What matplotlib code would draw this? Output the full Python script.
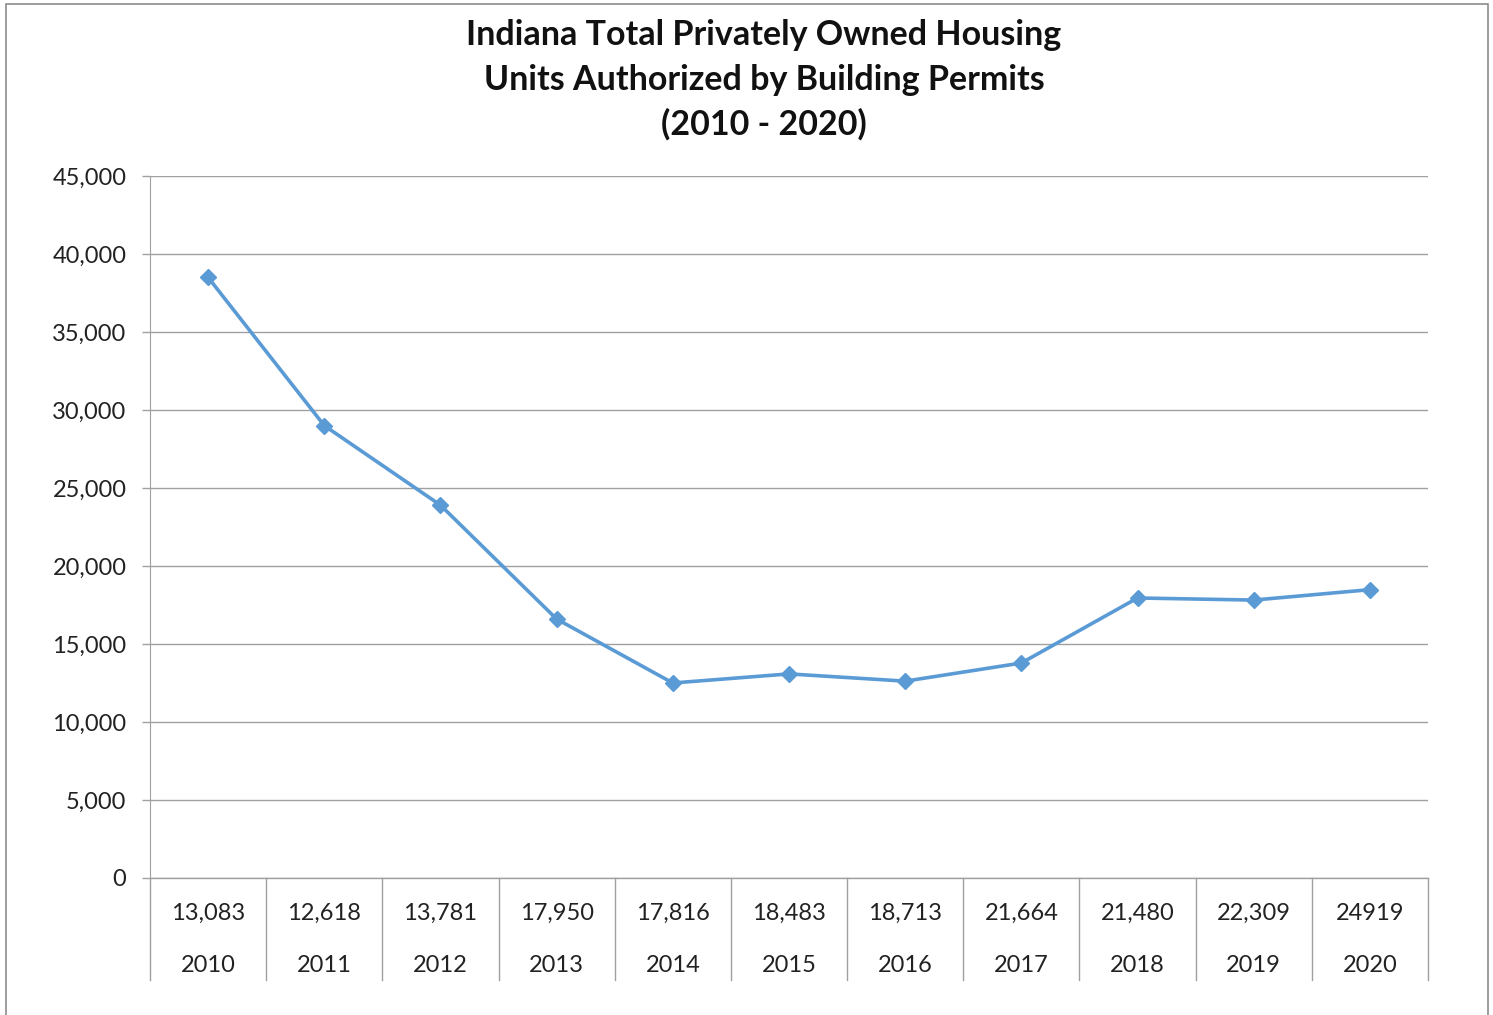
import matplotlib.pyplot as plt
import matplotlib.transforms as mtransforms
from matplotlib.patches import Rectangle
from matplotlib.ticker import FuncFormatter

plt.rcParams["font.family"] = ["Lato", "DejaVu Sans"]

years = ["2010", "2011", "2012", "2013", "2014", "2015",
         "2016", "2017", "2018", "2019", "2020"]
# values as plotted by the line
units = [38500, 29000, 23900, 16600, 12500, 13083,
         12618, 13781, 17950, 17816, 18483]
# values as printed in the data table row
table_labels = ["13,083", "12,618", "13,781", "17,950", "17,816", "18,483",
                "18,713", "21,664", "21,480", "22,309", "24919"]

W, H = 1493, 1015
fig = plt.figure(figsize=(W / 100, H / 100), dpi=100)
fig.patch.set_facecolor("white")

# axes placement in pixels
left, right, top, bottom = 150, 1428, 176, 878
ax = fig.add_axes([left / W, 1 - bottom / H, (right - left) / W, (bottom - top) / H])

grid_col = "#a0a0a0"
text_col = "#222222"
x = list(range(len(years)))
ax.plot(x, units, color="#5b9bd5", lw=2.6, marker="D", ms=8, zorder=3)

ax.set_xlim(-0.5, len(years) - 0.5)
ax.set_ylim(0, 45000)
ax.set_yticks(range(0, 45001, 5000))
ax.yaxis.set_major_formatter(FuncFormatter(lambda v, p: f"{int(v):,}"))
ax.tick_params(axis="y", labelsize=17, length=6, width=1, color=grid_col,
               pad=11, labelcolor=text_col)
ax.set_xticks([])
ax.grid(axis="y", color=grid_col, lw=1)
ax.set_axisbelow(True)
for s in ["top", "right", "bottom"]:
    ax.spines[s].set_visible(False)
ax.spines["left"].set_color(grid_col)

# data table under the axis
trans = mtransforms.blended_transform_factory(ax.transData, ax.transAxes)
px = 1.0 / (bottom - top)  # one pixel in axes fraction
table_bottom = -(980 - bottom) * px
ax.plot([-0.5, len(years) - 0.5], [0, 0], transform=trans, color=grid_col,
        lw=1, clip_on=False)
for b in range(len(years) + 1):
    ax.plot([b - 0.5, b - 0.5], [0, table_bottom], transform=trans,
            color=grid_col, lw=1, clip_on=False)
for i, (lab, yr) in enumerate(zip(table_labels, years)):
    ax.text(i, -(913 - bottom) * px, lab, transform=trans, ha="center",
            va="center", fontsize=17, color=text_col)
    ax.text(i, -(966 - bottom) * px, yr, transform=trans, ha="center",
            va="center", fontsize=17, color=text_col)

fig.text(764 / W, 1 - 80 / H,
         "Indiana Total Privately Owned Housing\nUnits Authorized by Building Permits\n(2010 - 2020)",
         ha="center", va="center", fontsize=24.5, fontweight="bold",
         linespacing=1.47, color="#111111")

# outer chart border
fig.patches.append(Rectangle((6 / W, -0.01), (1488 - 6) / W, 1 - 4 / H + 0.01,
                             transform=fig.transFigure, fill=False,
                             edgecolor="#8c8c8c", lw=1.2))

fig.savefig("out.png", dpi=100)
